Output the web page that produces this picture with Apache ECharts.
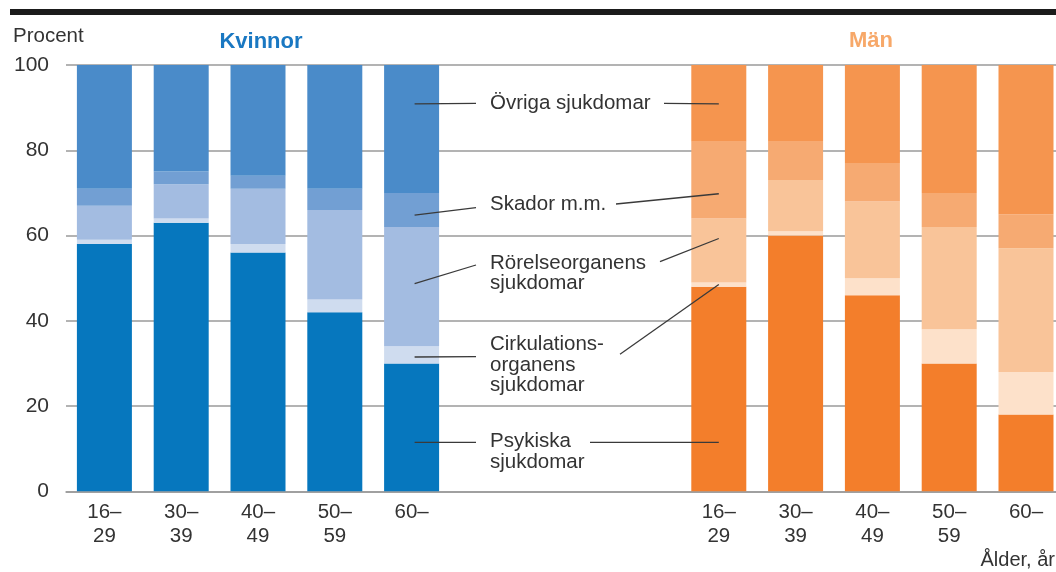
<!DOCTYPE html>
<html>
<head>
<meta charset="utf-8">
<script src="https://cdn.jsdelivr.net/npm/echarts@6/dist/echarts.min.js"></script>
<style>
  html, body { margin: 0; padding: 0; background: #fff; }
  #chart { width: 1056px; height: 572px; }
</style>
</head>
<body>
<div id="chart"></div>
<script>
// Age groups shown under each half of the chart
const ageGroups = ['16–\n29', '30–\n39', '40–\n49', '50–\n59', '60–'];
const yTicks = [0, 20, 40, 60, 80, 100];

// Diagnosis groups, bottom to top of each stacked bar
const causes = [
  'Psykiska\nsjukdomar',
  'Cirkulations-\norganens\nsjukdomar',
  'Rörelseorganens\nsjukdomar',
  'Skador m.m.',
  'Övriga sjukdomar'
];

// Kvinnor, percent per age group
const womenPsykiska     = [58, 63, 56, 42, 30];
const womenCirkulation  = [1, 1, 2, 3, 4];
const womenRorelse      = [8, 8, 13, 21, 28];
const womenSkador       = [4, 3, 3, 5, 8];
const womenOvriga       = [29, 25, 26, 29, 30];

// Män, percent per age group
const menPsykiska     = [48, 60, 46, 30, 18];
const menCirkulation  = [1, 1, 4, 8, 10];
const menRorelse      = [15, 12, 18, 24, 29];
const menSkador       = [18, 9, 9, 8, 8];
const menOvriga       = [18, 18, 23, 30, 35];

const womenSeries = [womenPsykiska, womenCirkulation, womenRorelse, womenSkador, womenOvriga];
const menSeries = [menPsykiska, menCirkulation, menRorelse, menSkador, menOvriga];

const womenColors = ['#0677be', '#cfdcef', '#a3bce1', '#729fd3', '#4a8bc9'];
const menColors   = ['#f37e2b', '#fde1ca', '#f9c499', '#f6aa72', '#f5954f'];

// Empty slots between the two groups leave room for the shared labels
const GAP = 3;
const gapBlank = new Array(GAP).fill(null);
const categories = ageGroups.concat(new Array(GAP).fill(''), ageGroups);
const womenLast = ageGroups.length - 1;
const menFirst = ageGroups.length + GAP;

// Where each leader line touches its bar (value on the y axis)
const womenLeaderAt = [11.5, 31.5, 48.7, 64.8, 90.9];
const menLeaderAt   = [11.5, 48.5, 59.3, 69.8, 90.9];

const FONT = 'Liberation Sans, Arial, Helvetica, sans-serif';
const TEXT = '#333333';

const series = causes.map((name, k) => ({
  name: name,
  type: 'bar',
  stack: 'total',
  barWidth: 55,
  silent: true,
  data: womenSeries[k].map(v => ({ value: v, itemStyle: { color: womenColors[k] } }))
    .concat(gapBlank, menSeries[k].map(v => ({ value: v, itemStyle: { color: menColors[k] } })))
}));

const chart = echarts.init(document.getElementById('chart'), null, { renderer: 'canvas' });

chart.setOption({
  animation: false,
  backgroundColor: '#ffffff',
  grid: { left: 66, top: 65, width: 998.4, height: 426.3, containLabel: false, outerBoundsMode: 'none' },
  xAxis: {
    type: 'category',
    data: categories,
    axisLine: { show: true, lineStyle: { color: '#9a9a9a', width: 1.5 } },
    axisTick: { show: false },
    axisLabel: {
      interval: 0, margin: 9, color: TEXT, fontFamily: FONT, fontSize: 20.5, lineHeight: 24
    },
    splitLine: { show: false }
  },
  yAxis: {
    type: 'value',
    min: yTicks[0],
    max: yTicks[yTicks.length - 1],
    interval: yTicks[1] - yTicks[0],
    axisLine: { show: false },
    axisTick: { show: false },
    axisLabel: { margin: 17, color: TEXT, fontFamily: FONT, fontSize: 21 },
    splitLine: { show: true, lineStyle: { color: '#9a9a9a', width: 1.5 } }
  },
  series: series
});

// Shared labels in the middle, with leader lines to the nearest bar on each side
const xPix = i => chart.convertToPixel({ xAxisIndex: 0 }, i);
const yPix = v => chart.convertToPixel({ yAxisIndex: 0 }, v);

const labelX = 490;
const labelMidY = [452, 365, 273.5, 204, 103];
const womenLineEnd = [[476, 442.3], [476, 356.7], [476, 265], [476, 207.7], [476, 103.3]];
const menLineStart = [[590, 442.3], [620, 354.3], [660, 261.7], [616, 204], [664, 103.3]];

const graphics = [
  { type: 'rect', z: 20, shape: { x: 10, y: 9, width: 1046, height: 6 }, style: { fill: '#1b1b1b' }, silent: true },
  { type: 'text', z: 20, style: { text: 'Procent', x: 13, y: 36, fill: TEXT, font: '20.5px ' + FONT, verticalAlign: 'middle' } },
  { type: 'text', z: 20, style: { text: 'Kvinnor', x: 261, y: 42, fill: '#1a78c2', font: 'bold 22px ' + FONT, align: 'center', verticalAlign: 'middle' } },
  { type: 'text', z: 20, style: { text: 'Män', x: 871, y: 41, fill: '#f7a869', font: 'bold 22px ' + FONT, align: 'center', verticalAlign: 'middle' } },
  { type: 'text', z: 20, style: { text: 'Ålder, år', x: 1055, y: 560, fill: TEXT, font: '20px ' + FONT, align: 'right', verticalAlign: 'middle' } }
];

causes.forEach((name, k) => {
  graphics.push({
    type: 'text', z: 20,
    style: { text: name, x: labelX, y: labelMidY[k], fill: TEXT, font: '20.5px ' + FONT, lineHeight: 20.5, verticalAlign: 'middle' }
  });
  graphics.push({
    type: 'line', silent: true, z: 20,
    shape: { x1: xPix(womenLast) + 3, y1: yPix(womenLeaderAt[k]), x2: womenLineEnd[k][0], y2: womenLineEnd[k][1] },
    style: { stroke: '#3a3a3a', lineWidth: 1.3 }
  });
  graphics.push({
    type: 'line', silent: true, z: 20,
    shape: { x1: menLineStart[k][0], y1: menLineStart[k][1], x2: xPix(menFirst), y2: yPix(menLeaderAt[k]) },
    style: { stroke: '#3a3a3a', lineWidth: 1.3 }
  });
});

chart.setOption({ graphic: graphics });
</script>
</body>
</html>
